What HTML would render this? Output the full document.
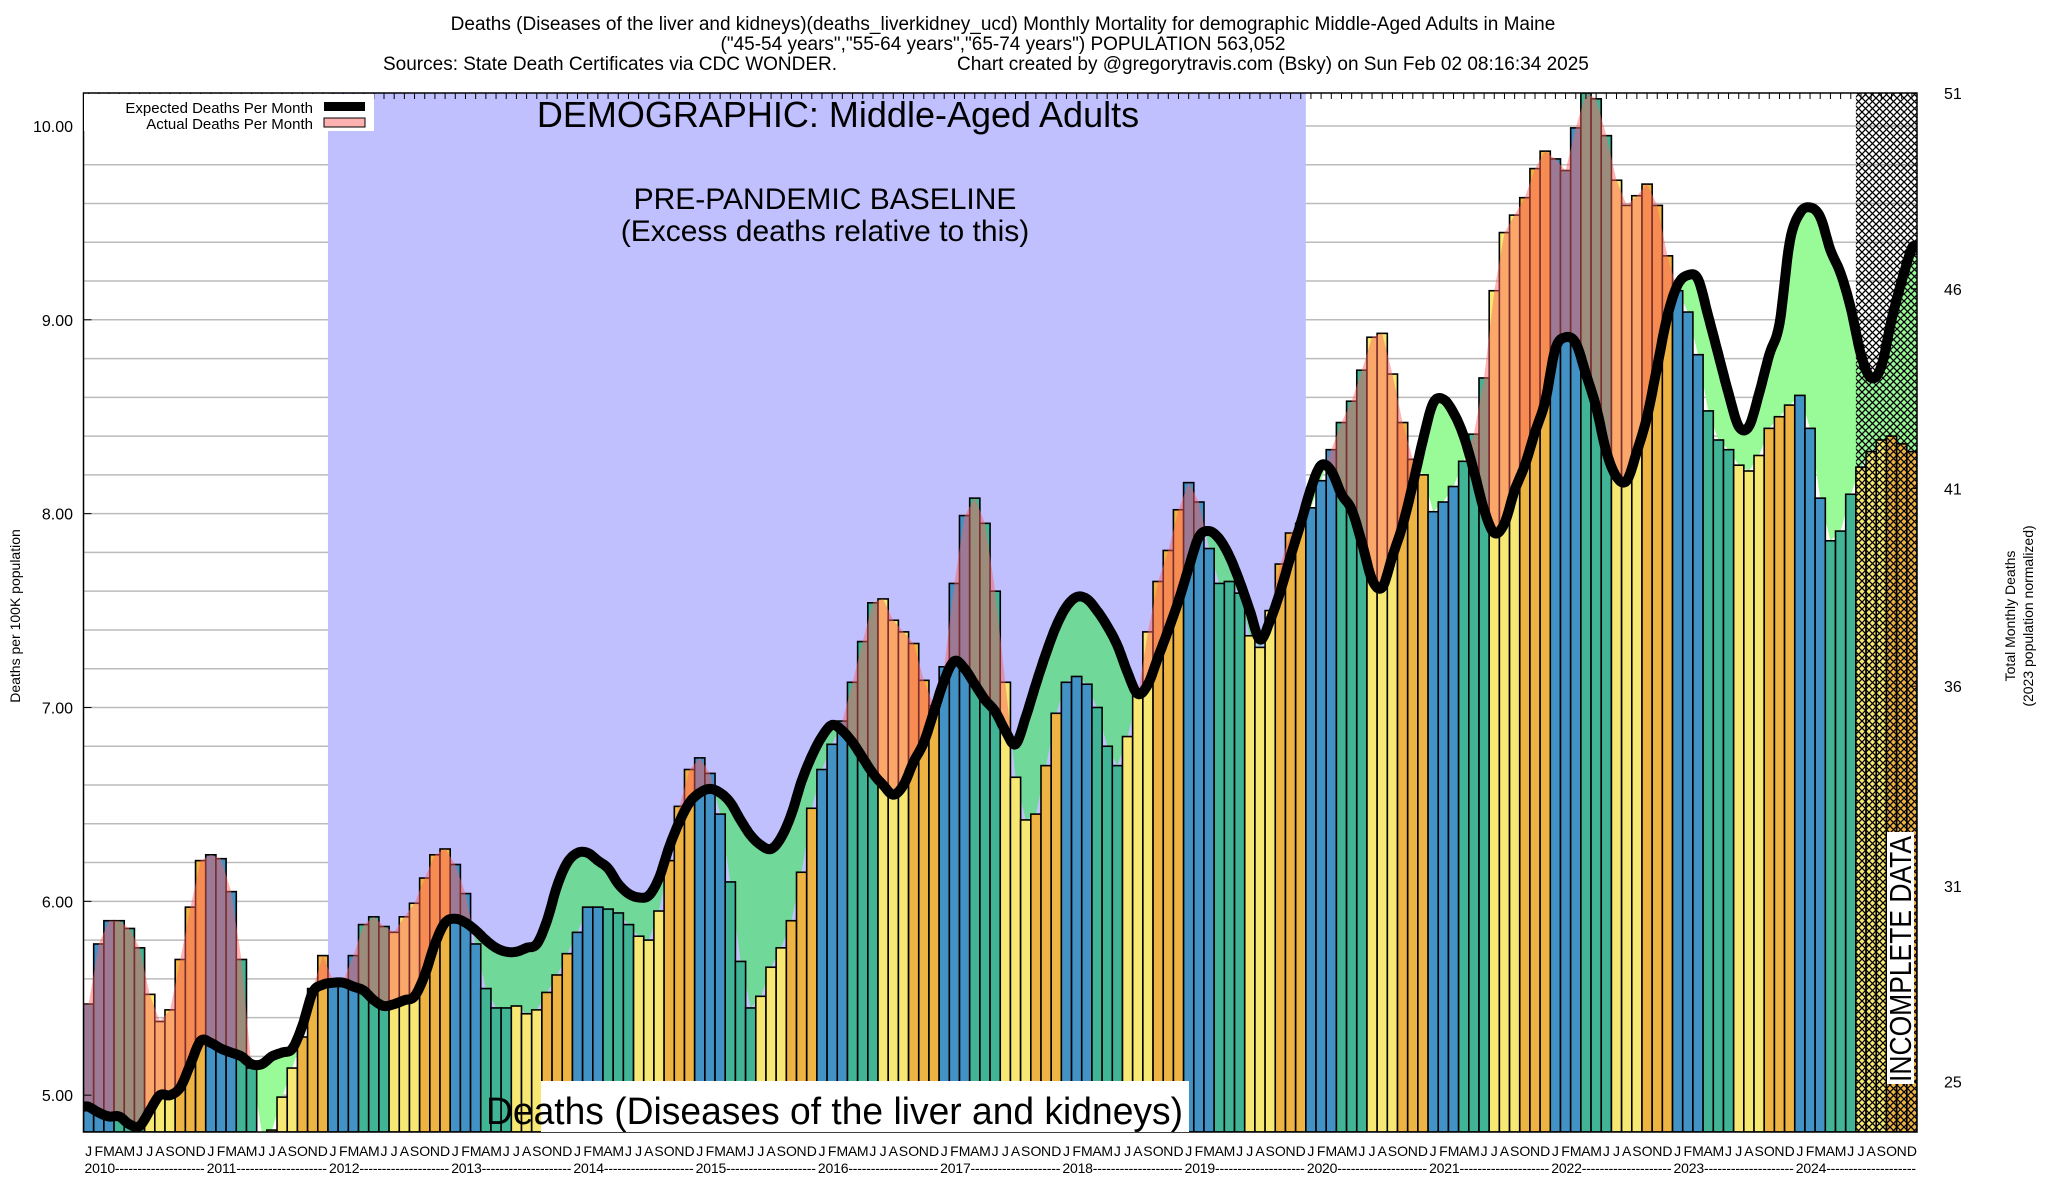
<!DOCTYPE html>
<html><head><meta charset="utf-8"><style>
html,body{margin:0;padding:0;background:#fff;}
svg{display:block;font-family:"Liberation Sans",sans-serif;}
</style></head><body>
<svg id="chart" width="2048" height="1200" viewBox="0 0 2048 1200" xmlns="http://www.w3.org/2000/svg">
<defs>
<pattern id="hatch" width="7" height="7" patternUnits="userSpaceOnUse">
<path d="M0,0L7,7M7,0L0,7M-1,6L1,8M6,-1L8,1" stroke="#000" stroke-width="1.3" fill="none"/>
</pattern>
<clipPath id="clipAbove"><path id="clipAbovePath" d=""/></clipPath>
<clipPath id="clipBelow"><path id="clipBelowPath" d=""/></clipPath>
<clipPath id="clipBase"><rect id="clipBaseRect" x="0" y="0" width="0" height="0"/></clipPath>
<clipPath id="clipPlot"><rect x="83.5" y="93" width="1833.5" height="1039"/></clipPath>
</defs>
<rect x="0" y="0" width="2048" height="1200" fill="#fff"/>
<g id="grid"></g>
<rect id="baseline" fill="#c0c0ff"/>
<g clip-path="url(#clipPlot)">
<g clip-path="url(#clipBelow)"><path id="greenWhite" fill="#98fb98"/></g>
<g clip-path="url(#clipBelow)"><g clip-path="url(#clipBase)"><path id="greenBlue" fill="#70d898"/></g></g>
<g id="bars"></g>
<g clip-path="url(#clipAbove)"><path id="pinkArea" fill="#ff6060" fill-opacity="0.48"/></g>
<rect id="hatchRect" fill="url(#hatch)"/>
<path id="expLine" fill="none" stroke="#000" stroke-width="10" stroke-linejoin="round" stroke-linecap="round"/>
</g>
<rect x="83.5" y="93" width="1833.5" height="1039" fill="none" stroke="#000" stroke-width="1.5"/>
<g id="ticks"></g>
<g id="legend">
<rect x="84" y="94" width="290" height="37" fill="#fff"/>
<text x="313" y="113" font-size="15" text-anchor="end">Expected Deaths Per Month</text>
<rect x="324" y="102" width="41" height="9" fill="#000"/>
<text x="313" y="129" font-size="15" text-anchor="end">Actual Deaths Per Month</text>
<rect x="324" y="118" width="41" height="9" fill="#ffb0b0" stroke="#000" stroke-width="1"/>
</g>
<text x="1003" y="30" font-size="19" text-anchor="middle">Deaths (Diseases of the liver and kidneys)(deaths_liverkidney_ucd) Monthly Mortality for demographic Middle-Aged Adults in Maine</text>
<text x="1003" y="50" font-size="19" text-anchor="middle">("45-54 years","55-64 years","65-74 years") POPULATION 563,052</text>
<text x="383" y="70" font-size="19">Sources: State Death Certificates via CDC WONDER.</text>
<text x="957" y="70" font-size="19">Chart created by @gregorytravis.com (Bsky) on Sun Feb 02 08:16:34 2025</text>
<text x="838" y="127" font-size="36" text-anchor="middle">DEMOGRAPHIC: Middle-Aged Adults</text>
<text x="825" y="209" font-size="30" text-anchor="middle">PRE-PANDEMIC BASELINE</text>
<text x="825" y="241" font-size="30" text-anchor="middle">(Excess deaths relative to this)</text>
<rect x="541" y="1081" width="648" height="51" fill="#fff"/>
<text x="486" y="1124" font-size="38" textLength="697" lengthAdjust="spacingAndGlyphs">Deaths (Diseases of the liver and kidneys)</text>
<rect x="1887" y="832" width="27" height="252" fill="#fff"/>
<text transform="translate(1911,1082) rotate(-90)" font-size="31" textLength="246" lengthAdjust="spacingAndGlyphs">INCOMPLETE DATA</text>
<text transform="translate(20,616) rotate(-90)" font-size="14" text-anchor="middle">Deaths per 100K population</text>
<text transform="translate(2015,616) rotate(-90)" font-size="14" text-anchor="middle">Total Monthly Deaths</text>
<text transform="translate(2033,616) rotate(-90)" font-size="14" text-anchor="middle">(2023 population normalized)</text>
<g id="labels"></g>
</svg>
<script>
const monthLetters = ["J","F","M","A","M","J","J","A","S","O","N","D"];
const years = ["2010","2011","2012","2013","2014","2015","2016","2017","2018","2019","2020","2021","2022","2023","2024"];
const actual = [
5.47,5.78,5.90,5.90,5.86,5.76,5.52,5.38,5.44,5.70,5.97,6.21,
6.24,6.22,6.05,5.70,5.14,4.81,4.82,4.99,5.14,5.30,5.55,5.72,
5.59,5.59,5.72,5.88,5.92,5.87,5.84,5.92,5.99,6.12,6.24,6.27,
6.19,6.04,5.78,5.55,5.45,5.45,5.46,5.42,5.44,5.53,5.62,5.73,
5.84,5.97,5.97,5.96,5.94,5.88,5.82,5.80,5.95,6.21,6.49,6.68,
6.74,6.66,6.45,6.10,5.69,5.45,5.51,5.66,5.76,5.90,6.15,6.48,
6.68,6.81,6.93,7.13,7.34,7.54,7.56,7.45,7.39,7.33,7.14,7.01,
7.21,7.64,7.99,8.08,7.95,7.60,7.13,6.64,6.42,6.45,6.70,6.97,
7.13,7.16,7.12,7.00,6.80,6.70,6.85,7.06,7.39,7.65,7.81,8.02,
8.16,8.06,7.82,7.64,7.65,7.59,7.37,7.31,7.50,7.74,7.90,7.95,
8.03,8.17,8.33,8.47,8.58,8.74,8.91,8.93,8.72,8.47,8.28,8.20,
8.01,8.06,8.14,8.27,8.41,8.70,9.15,9.45,9.54,9.63,9.78,9.87,
9.83,9.77,9.99,10.17,10.14,9.95,9.72,9.59,9.64,9.70,9.59,9.33,
9.15,9.04,8.82,8.53,8.38,8.33,8.25,8.22,8.30,8.44,8.50,8.56,
8.61,8.44,8.08,7.86,7.91,8.10,8.24,8.32,8.38,8.40,8.36,8.32];
const expected = [
4.94,4.91,4.89,4.89,4.85,4.84,4.92,5.00,5.00,5.04,5.16,5.28,
5.27,5.24,5.22,5.20,5.16,5.16,5.20,5.22,5.24,5.36,5.53,5.57,
5.58,5.58,5.56,5.54,5.49,5.46,5.47,5.49,5.51,5.62,5.78,5.89,
5.91,5.89,5.85,5.80,5.76,5.74,5.74,5.76,5.78,5.90,6.08,6.20,
6.25,6.25,6.21,6.17,6.09,6.04,6.02,6.03,6.12,6.28,6.41,6.51,
6.56,6.58,6.56,6.51,6.42,6.34,6.29,6.27,6.33,6.45,6.62,6.75,
6.85,6.91,6.88,6.82,6.74,6.66,6.60,6.55,6.60,6.72,6.82,6.98,
7.14,7.24,7.20,7.12,7.04,6.98,6.88,6.81,6.95,7.12,7.28,7.42,
7.52,7.57,7.56,7.50,7.42,7.32,7.18,7.07,7.12,7.26,7.40,7.55,
7.72,7.88,7.91,7.87,7.78,7.65,7.50,7.35,7.45,7.60,7.78,7.95,
8.13,8.25,8.22,8.10,8.02,7.85,7.66,7.62,7.78,7.94,8.15,8.38,
8.57,8.59,8.52,8.40,8.22,8.02,7.90,7.95,8.12,8.25,8.42,8.58,
8.85,8.91,8.88,8.72,8.55,8.32,8.19,8.17,8.32,8.50,8.76,9.02,
9.18,9.23,9.21,9.02,8.82,8.62,8.45,8.45,8.62,8.82,8.98,9.40,
9.55,9.58,9.53,9.36,9.24,9.06,8.82,8.70,8.76,9.00,9.20,9.37];
const yTicks = [5,6,7,8,9,10];
const rightTicks = ["51","46","41","36","31","25"];
const rightTickVals = [10.17,9.16,8.13,7.11,6.08,5.07];
const baselineStart = 24, baselineEnd = 120, incompleteStart = 174;

const NS = "http://www.w3.org/2000/svg";
const L = 83.5, R = 1917, T = 93, B = 1132;
const N = actual.length;
const bw = (R - L) / N;
const x = i => L + i * bw;
const xc = i => L + (i + 0.5) * bw;
const y = v => B - (v - 4.81) / (10.17 - 4.81) * (B - T);
function mk(tag, attrs, parent) { const e = document.createElementNS(NS, tag); for (const k in attrs) e.setAttribute(k, attrs[k]); parent.appendChild(e); return e; }

const grid = document.getElementById('grid');
for (let k = 0; k <= 25; k++) {
  const v = 5 + k * 0.2;
  const gl = mk('line', {x1: L, x2: R, y1: y(v), y2: y(v), stroke: '#bbb', 'stroke-width': 1.5}, grid);
  
  
}
const base = document.getElementById('baseline');
base.setAttribute('x', x(baselineStart)); base.setAttribute('y', T);
base.setAttribute('width', x(baselineEnd) - x(baselineStart)); base.setAttribute('height', B - T);
const cb = document.getElementById('clipBaseRect');
cb.setAttribute('x', x(baselineStart)); cb.setAttribute('y', T);
cb.setAttribute('width', x(baselineEnd) - x(baselineStart)); cb.setAttribute('height', B - T);

const pts = expected.map((v, i) => [xc(i), y(v)]);
pts.unshift([L, y(expected[0])]); pts.push([R, y(expected[N - 1])]);
const samp = [];
for (let i = 0; i < pts.length - 1; i++) {
  const p0 = pts[Math.max(0, i - 1)], p1 = pts[i], p2 = pts[i + 1], p3 = pts[Math.min(pts.length - 1, i + 2)];
  for (let s = 0; s < 8; s++) {
    const t = s / 8, t2 = t * t, t3 = t2 * t;
    const f = (a, b, c, d) => 0.5 * ((2 * b) + (-a + c) * t + (2 * a - 5 * b + 4 * c - d) * t2 + (-a + 3 * b - 3 * c + d) * t3);
    samp.push([f(p0[0], p1[0], p2[0], p3[0]), f(p0[1], p1[1], p2[1], p3[1])]);
  }
}
samp.push(pts[pts.length - 1]);
const sampStr = samp.map(p => p[0].toFixed(1) + ',' + p[1].toFixed(1)).join(' L');
document.getElementById('expLine').setAttribute('d', 'M' + samp.slice(1, -1).map(p => p[0].toFixed(1) + ',' + p[1].toFixed(1)).join(' L'));
document.getElementById('clipAbovePath').setAttribute('d', `M${L},${T} L${sampStr} L${R},${T}Z`);
document.getElementById('clipBelowPath').setAttribute('d', `M${L},${B} L${sampStr} L${R},${B}Z`);

const act = actual.map((v, i) => [xc(i), y(v)]);
act.unshift([L, y(actual[0])]); act.push([R, y(actual[N - 1])]);
const area = 'M' + act.map(p => p[0].toFixed(1) + ',' + p[1].toFixed(1)).join(' L') + ' L' + samp.slice().reverse().map(p => p[0].toFixed(1) + ',' + p[1].toFixed(1)).join(' L') + 'Z';
['greenWhite', 'greenBlue', 'pinkArea'].forEach(id => document.getElementById(id).setAttribute('d', area));

const bars = document.getElementById('bars');
const seasonColors = ['#4292c6', '#41b496', '#f6e872', '#eeb443'];
actual.forEach((v, i) => {
  const r = mk('rect', {x: x(i), y: y(v), width: bw, height: B - y(v), fill: seasonColors[Math.floor((i % 12) / 3)], stroke: '#000', 'stroke-width': 1.6}, bars);
  
  
});
const hr = document.getElementById('hatchRect');
hr.setAttribute('x', x(incompleteStart)); hr.setAttribute('y', T);
hr.setAttribute('width', R - x(incompleteStart)); hr.setAttribute('height', B - T);

const tk = document.getElementById('ticks');
const lb = document.getElementById('labels');
for (let i = 0; i < N; i++) {
  mk('line', {x1: xc(i), x2: xc(i), y1: T, y2: T + 6, stroke: '#000', 'stroke-width': 1}, tk);
  const t = mk('text', {x: xc(i), y: 1156, 'font-size': 14, 'text-anchor': 'middle'}, lb);
  t.textContent = monthLetters[i % 12];
  
  
}
years.forEach((yr, k) => {
  const t = mk('text', {x: x(k * 12) + 1, y: 1173, 'font-size': 14, textLength: 12 * bw - 2, lengthAdjust: 'spacing'}, lb);
  t.textContent = yr + '--------------------';
  
  
});
yTicks.forEach(v => {
  mk('line', {x1: L, x2: L + 8, y1: y(v), y2: y(v), stroke: '#000', 'stroke-width': 1}, tk);
  const t = mk('text', {x: 73, y: y(v) + 6, 'font-size': 16, 'text-anchor': 'end'}, lb);
  t.textContent = v.toFixed(2);
  
  
});
rightTicks.forEach((s, k) => {
  const yy = y(rightTickVals[k]);
  mk('line', {x1: R - 6, x2: R, y1: yy, y2: yy, stroke: '#000', 'stroke-width': 1}, tk);
  const t = mk('text', {x: 1944, y: yy + 6, 'font-size': 16}, lb);
  t.textContent = s;
  
  
});
</script>
</body></html>
